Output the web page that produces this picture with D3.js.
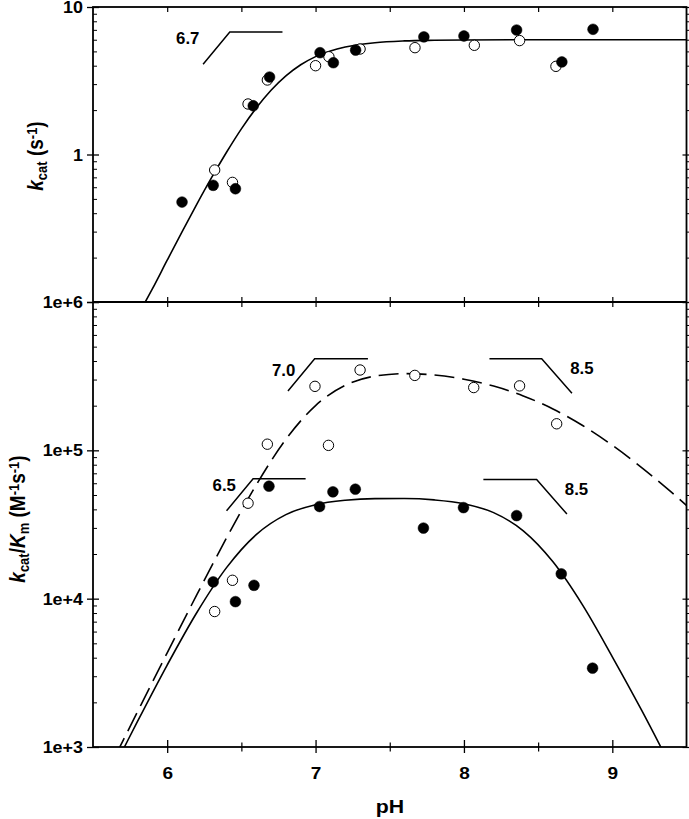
<!DOCTYPE html>
<html><head><meta charset="utf-8">
<script src="https://cdn.jsdelivr.net/npm/d3@7"></script>
<style>
body{margin:0;background:#fff}
svg{display:block}
text{font-family:"Liberation Sans",Arial,sans-serif;font-weight:bold;fill:#000}
</style>
</head><body><script>
// ---------- data ----------
// Top panel: kcat (s^-1)
const kcatFilledPH  = [6.10, 6.31, 6.46, 6.58, 6.69, 7.03, 7.12, 7.27, 7.73, 8.00, 8.355, 8.66, 8.87];
const kcatFilledVal = [0.476, 0.618, 0.586, 2.14, 3.35, 4.9, 4.19, 5.1, 6.27, 6.36, 6.98, 4.24, 7.06];
const kcatOpenPH    = [6.32, 6.44, 6.545, 6.675, 7.00, 7.09, 7.30, 7.67, 8.07, 8.375, 8.62];
const kcatOpenVal   = [0.785, 0.647, 2.20, 3.2, 4.0, 4.6, 5.19, 5.3, 5.5, 5.92, 3.96];
// fitted curve, top panel
const kcatFitPH  = [5.84, 5.9, 6.0, 6.1, 6.2, 6.3, 6.4, 6.5, 6.6, 6.7, 6.8, 6.9, 7.0, 7.1, 7.2, 7.4, 7.6, 7.8, 8.0, 8.5, 9.0, 9.5];
const kcatFitVal = [0.0950, 0.1227, 0.192, 0.299, 0.461, 0.699, 1.036, 1.493, 2.065, 2.725, 3.41, 4.057, 4.61, 5.04, 5.36, 5.73, 5.89, 5.95, 5.98, 6.0, 6.0, 6.0];

// Bottom panel: kcat/Km (M^-1 s^-1)
const effFilledPH  = [6.31, 6.46, 6.585, 6.686, 7.027, 7.117, 7.268, 7.727, 7.997, 8.355, 8.656, 8.867];
const effFilledVal = [12970, 9550, 12300, 57300, 41800, 52500, 54700, 29900, 41100, 36300, 14700, 3400];
const effOpenPH    = [6.32, 6.44, 6.545, 6.675, 6.996, 7.087, 7.30, 7.669, 8.066, 8.375, 8.625];
const effOpenVal   = [8190, 13300, 44000, 110000, 270000, 108000, 348000, 320000, 265000, 272000, 151000];
// fitted curves, bottom panel
const effSolidPH  = [5.65, 5.7, 5.8, 6.0, 6.2, 6.4, 6.6, 6.8, 7.0, 7.2, 7.4, 7.6, 7.8, 8.0, 8.2, 8.4, 8.6, 8.8, 9.0, 9.2, 9.4];
const effSolidVal = [757, 948, 1487, 3569, 8070, 16190, 27030, 36850, 43030, 46060, 47230, 47300, 46330, 43660, 38020, 28660, 17710, 9040, 4055, 1750, 720];
const effDashPH   = [5.65, 5.7, 5.8, 6.0, 6.2, 6.4, 6.6, 6.8, 7.0, 7.2, 7.4, 7.6, 7.8, 8.0, 8.2, 8.4, 8.6, 8.8, 9.0, 9.2, 9.4, 9.5];
const effDashVal  = [869, 1093, 1729, 4313, 10640, 25680, 58400, 118600, 200400, 274100, 316400, 329000, 322000, 301600, 271100, 232800, 190000, 147000, 108200, 76300, 52000, 42500];

// axis ticks
const xMajor = [6, 7, 8, 9];
const xMinor = [6.5, 7.5, 8.5];
const xTickLabels = ["6", "7", "8", "9"];
const topMajor = [10, 1, 0.1];
const topLabels = ["10", "1", ""];
const botMajor = [1e6, 1e5, 1e4, 1e3];
const botLabels = ["1e+6", "1e+5", "1e+4", "1e+3"];

// slope annotations (data units)
const annTop = [{label: "6.7", at: [6.060, 5.58], path: [[6.242, 4.09], [6.422, 6.77], [6.777, 6.77]]}];
const annBot = [
  {label: "7.0", at: [6.706, 317000], path: [[6.814, 251000], [6.994, 415000], [7.353, 415000]]},
  {label: "6.5", at: [6.306, 53000],  path: [[6.40, 39100], [6.579, 64400], [6.933, 64400]]},
  {label: "8.5", at: [8.716, 327000], path: [[8.172, 415000], [8.524, 415000], [8.728, 242600]]},
  {label: "8.5", at: [8.680, 50200],  path: [[8.131, 63500], [8.49, 63500], [8.694, 37200]]}
];

// ---------- drawing ----------
const W = 689, H = 819;
const L = 93, R = 686.5, T = 7, M = 302, B = 747;
const SX = 1.12; // horizontal stretch of the original lettering

const svg = d3.select("body").append("svg").attr("width", W).attr("height", H);
const x = d3.scaleLinear().domain([5.5, 9.5]).range([L, R]);
const yTop = d3.scaleLog().domain([0.1, 10]).range([M, T]);
const yBot = d3.scaleLog().domain([1e3, 1e6]).range([B, M]);

function minorsOf(scale) {
  const [a, b] = scale.domain();
  const out = [];
  for (let d = a; d < b * 0.999; d *= 10) for (let k = 2; k <= 9; k++) out.push(d * k);
  return out;
}

const defs = svg.append("defs");
defs.append("clipPath").attr("id", "clipTop").append("rect").attr("x", L).attr("y", T).attr("width", R - L).attr("height", M - T);
defs.append("clipPath").attr("id", "clipBot").append("rect").attr("x", L).attr("y", M).attr("width", R - L).attr("height", B - M);

// ---- Axes ----
function leftAxis(scale, major, labels) {
  const g = svg.append("g").attr("transform", `translate(${L},0)`)
    .call(d3.axisLeft(scale).tickValues(major).tickSize(6).tickPadding(10).tickFormat((d, i) => labels[i]));
  g.select(".domain").remove();
  g.selectAll(".tick line").attr("x1", 6).attr("stroke-width", 1.3);
  g.selectAll(".tick text").attr("x", null).attr("dy", "0.35em")
    .attr("transform", `translate(-10,0) scale(${SX},1)`).style("font-size", "16px");
  const gm = svg.append("g").attr("transform", `translate(${L},0)`)
    .call(d3.axisLeft(scale).tickValues(minorsOf(scale)).tickSize(-4).tickFormat(""));
  gm.select(".domain").remove();
  gm.selectAll(".tick line").attr("stroke-width", 1);
}
function rightAxis(scale, major) {
  const g = svg.append("g").attr("transform", `translate(${R},0)`)
    .call(d3.axisRight(scale).tickValues(major).tickSize(3).tickFormat(""));
  g.select(".domain").remove();
  g.selectAll(".tick line").attr("x1", -4).attr("stroke-width", 1.2);
  const gm = svg.append("g").attr("transform", `translate(${R},0)`)
    .call(d3.axisRight(scale).tickValues(minorsOf(scale)).tickSize(3).tickFormat(""));
  gm.select(".domain").remove();
  gm.selectAll(".tick line").attr("stroke-width", 1);
}
leftAxis(yTop, topMajor, topLabels);
leftAxis(yBot, botMajor, botLabels);
rightAxis(yTop, topMajor);
rightAxis(yBot, botMajor);

// top edge: inward ticks
{
  const g = svg.append("g").attr("transform", `translate(0,${T})`)
    .call(d3.axisTop(x).tickValues(xMajor.concat(xMinor)).tickSize(-5).tickFormat(""));
  g.select(".domain").remove();
  g.selectAll(".tick line").attr("stroke-width", 1.2);
}
// middle line: crossing ticks
{
  const g = svg.append("g").attr("transform", `translate(0,${M})`)
    .call(d3.axisBottom(x).tickValues(xMajor.concat(xMinor)).tickSize(5).tickFormat(""));
  g.select(".domain").remove();
  g.selectAll(".tick line").attr("y1", -5).attr("stroke-width", 1.2);
}
// bottom axis
{
  const g = svg.append("g").attr("transform", `translate(0,${B})`)
    .call(d3.axisBottom(x).tickValues(xMajor).tickSize(6).tickFormat((d, i) => xTickLabels[i]));
  g.select(".domain").remove();
  g.selectAll(".tick line").attr("y1", -7).attr("stroke-width", 1.3);
  g.selectAll(".tick text").attr("y", null).attr("dy", null)
    .attr("transform", `translate(0,32) scale(${SX},1)`).style("font-size", "17px");
  const gm = svg.append("g").attr("transform", `translate(0,${B})`)
    .call(d3.axisBottom(x).tickValues(xMinor).tickSize(4.5).tickFormat(""));
  gm.select(".domain").remove();
  gm.selectAll(".tick line").attr("y1", -4.5).attr("stroke-width", 1.2);
}

// frame and middle divider
svg.append("rect").attr("x", L).attr("y", T).attr("width", R - L).attr("height", B - T)
  .attr("fill", "none").attr("stroke", "#000").attr("stroke-width", 1.8);
svg.append("line").attr("x1", L).attr("x2", R).attr("y1", M).attr("y2", M)
  .attr("stroke", "#000").attr("stroke-width", 1.8);

// ---- curves ----
function curve(scale, xs, vs, clip, dash) {
  const pts = xs.map((p, i) => [p, vs[i]]);
  svg.append("path").datum(pts).attr("clip-path", `url(#${clip})`)
    .attr("fill", "none").attr("stroke", "#000").attr("stroke-width", 1.6)
    .attr("stroke-dasharray", dash || null)
    .attr("d", d3.line().x(d => x(d[0])).y(d => scale(d[1])).curve(d3.curveMonotoneX));
}
curve(yTop, kcatFitPH, kcatFitVal, "clipTop");
curve(yBot, effSolidPH, effSolidVal, "clipBot");
curve(yBot, effDashPH, effDashVal, "clipBot", "20,8");

// ---- annotations ----
function annotate(scale, list) {
  list.forEach(a => {
    svg.append("path").datum(a.path).attr("fill", "none").attr("stroke", "#000").attr("stroke-width", 1.5)
      .attr("d", d3.line().x(d => x(d[0])).y(d => scale(d[1])));
    svg.append("text").attr("transform", `translate(${x(a.at[0])},${scale(a.at[1])}) scale(1.05,1)`)
      .style("font-size", "16px").text(a.label);
  });
}
annotate(yTop, annTop);
annotate(yBot, annBot);

// ---- points ----
function points(scale, xs, vs, open) {
  svg.append("g").selectAll("circle").data(xs.map((p, i) => [p, vs[i]])).join("circle")
    .attr("cx", d => x(d[0])).attr("cy", d => scale(d[1]))
    .attr("r", open ? 5.2 : 5.4)
    .attr("fill", open ? "#fff" : "#000")
    .attr("stroke", "#000").attr("stroke-width", open ? 1 : 0.5);
}
points(yTop, kcatOpenPH, kcatOpenVal, true);
points(yTop, kcatFilledPH, kcatFilledVal, false);
points(yBot, effOpenPH, effOpenVal, true);
points(yBot, effFilledPH, effFilledVal, false);

// ---- axis titles ----
function yTitle(cx, cy, parts) {
  const t = svg.append("text").attr("text-anchor", "middle")
    .attr("transform", `translate(${cx},${cy}) rotate(-90) scale(1,${SX})`).style("font-size", "19px");
  parts.forEach(p => {
    const s = t.append("tspan").text(p.t);
    if (p.i) s.style("font-style", "italic");
    if (p.sub) s.style("font-size", "13px").attr("baseline-shift", "-25%");
    if (p.sup) s.style("font-size", "13px").attr("baseline-shift", "45%");
  });
}
yTitle(43, 156, [{t: "k", i: 1}, {t: "cat", sub: 1}, {t: " (s"}, {t: "-1", sup: 1}, {t: ")"}]);
yTitle(25, 519, [{t: "k", i: 1}, {t: "cat", sub: 1}, {t: "/"}, {t: "K", i: 1}, {t: "m", sub: 1},
                 {t: " (M"}, {t: "-1", sup: 1}, {t: "s"}, {t: "-1", sup: 1}, {t: ")"}]);
svg.append("text").attr("text-anchor", "middle")
  .attr("transform", `translate(390,813) scale(${SX},1)`).style("font-size", "19px").text("pH");
</script></body></html>
